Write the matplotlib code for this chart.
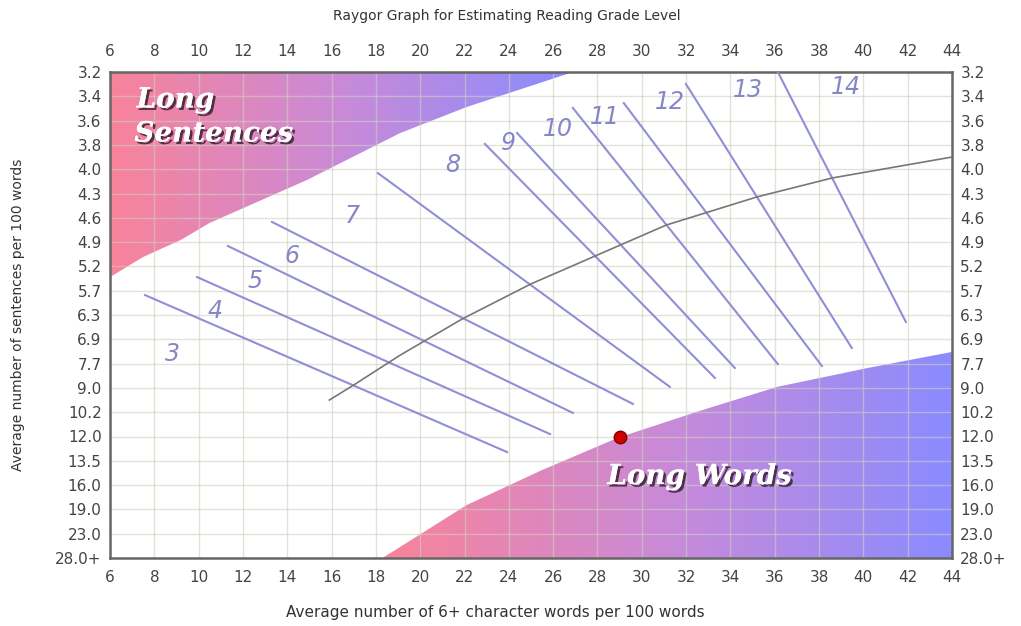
import numpy as np
import matplotlib.pyplot as plt
from matplotlib.colors import LinearSegmentedColormap
from matplotlib.patches import Polygon
import matplotlib.patheffects as pe

# x axis: average number of 6+ character words per 100 words
x_ticks = list(range(6, 46, 2))
# y axis: sentences per 100 words, one row per label (top to bottom)
y_labels = ['3.2', '3.4', '3.6', '3.8', '4.0', '4.3', '4.6', '4.9', '5.2', '5.7', '6.3',
            '6.9', '7.7', '9.0', '10.2', '12.0', '13.5', '16.0', '19.0', '23.0', '28.0+']

# "Long Sentences" boundary (x, row)
sent_x = [6.0, 7.5, 9.2, 10.5, 14.9, 19.1, 22.1, 26.9]
sent_y = [8.44, 7.61, 6.91, 6.21, 4.44, 2.51, 1.44, 0.0]
# "Long Words" boundary (x, row)
words_x = [18.3, 22.1, 25.5, 28.9, 32.6, 36.1, 40.2, 44.0]
words_y = [20.0, 17.82, 16.38, 15.06, 13.95, 12.96, 12.18, 11.52]

# gray dividing curve
curve_x = [15.9, 17.0, 19.1, 21.9, 25.0, 28.0, 31.1, 35.2, 38.6, 44.0]
curve_y = [13.5, 12.88, 11.65, 10.16, 8.72, 7.53, 6.30, 5.14, 4.36, 3.5]

# grade boundary lines: start and end points
grade_x0 = [7.58, 9.93, 11.32, 13.31, 18.09, 22.92, 24.37, 26.89, 29.19, 31.99, 36.14]
grade_y0 = [9.18, 8.44, 7.16, 6.17, 4.16, 2.96, 2.51, 1.48, 1.28, 0.49, 0.0]
grade_x1 = [23.92, 25.86, 26.89, 29.60, 31.27, 33.30, 34.20, 36.14, 38.13, 39.48, 41.92]
grade_y1 = [15.64, 14.90, 14.03, 13.66, 12.96, 12.59, 12.18, 12.02, 12.10, 11.36, 10.29]

# grade level labels
grade_names = ['3', '4', '5', '6', '7', '8', '9', '10', '11', '12', '13', '14']
grade_lx = [8.8, 10.74, 12.54, 14.21, 16.92, 21.48, 23.96, 26.22, 28.34, 31.27, 34.79, 39.21]
grade_ly = [11.6, 9.84, 8.6, 7.57, 5.93, 3.83, 2.92, 2.35, 1.85, 1.23, 0.74, 0.62]

# plotted text sample
sample_x = 29.0
sample_y = '12.0'

pink_blue = LinearSegmentedColormap.from_list('pb', ['#f9839a', '#c98ad8', '#8a8cff'])

fig = plt.figure(figsize=(10.21, 6.26), dpi=100)
ax = fig.add_axes([110 / 1021, 1 - 558 / 626, 842 / 1021, 486 / 626])

grad = np.linspace(0, 1, 256).reshape(1, -1)

# Long Sentences region
poly_s = Polygon(list(zip(sent_x, sent_y)) + [(6, 0)], closed=True,
                 facecolor='none', edgecolor='none', transform=ax.transData)
ax.add_patch(poly_s)
im = ax.imshow(grad, cmap=pink_blue, aspect='auto', extent=(6, 26.9, 20, 0), zorder=0)
im.set_clip_path(poly_s)

# Long Words region
poly_w = Polygon(list(zip(words_x, words_y)) + [(44, 20)], closed=True,
                 facecolor='none', edgecolor='none', transform=ax.transData)
ax.add_patch(poly_w)
im2 = ax.imshow(grad, cmap=pink_blue, aspect='auto', extent=(18.3, 44, 20, 0), zorder=0)
im2.set_clip_path(poly_w)

ax.set_xlim(6, 44)
ax.set_ylim(20, 0)

# grid
for gx in x_ticks:
    ax.axvline(gx, color='#cfcfc0', lw=1, alpha=0.6, zorder=1)
for gy in range(len(y_labels)):
    ax.axhline(gy, color='#cfcfc0', lw=1, alpha=0.6, zorder=1)

# grade lines
for i in range(len(grade_x0)):
    ax.plot([grade_x0[i], grade_x1[i]], [grade_y0[i], grade_y1[i]],
            color='#8f8fd6', lw=1.5, zorder=3)

ax.plot(curve_x, curve_y, color='#777777', lw=1.2, zorder=4)

for name, lx, ly in zip(grade_names, grade_lx, grade_ly):
    ax.text(lx, ly, name, fontsize=17, style='italic', color='#8585c8',
            ha='center', va='center', zorder=5)

shadow = [pe.withSimplePatchShadow(offset=(1.8, -1.8), shadow_rgbFace='#3a2030', alpha=0.85),
          pe.Normal()]
ax.text(7.2, 1.15, 'Long', fontsize=20, family='DejaVu Serif', weight='bold',
        style='italic', color='white', ha='left', va='center', path_effects=shadow, zorder=6)
ax.text(7.1, 2.55, 'Sentences', fontsize=20, family='DejaVu Serif', weight='bold',
        style='italic', color='white', ha='left', va='center', path_effects=shadow, zorder=6)
ax.text(32.6, 16.65, 'Long Words', fontsize=20, family='DejaVu Serif', weight='bold',
        style='italic', color='white', ha='center', va='center', path_effects=shadow, zorder=6)

ax.plot(sample_x, y_labels.index(sample_y), 'o', color='#d00000', mec='#800000',
        markersize=9, zorder=7)

ax.set_xticks(x_ticks)
ax.set_xticklabels([str(t) for t in x_ticks])
ax.set_yticks(range(len(y_labels)))
ax.set_yticklabels(y_labels)
ax.tick_params(axis='x', top=True, labeltop=True, length=0, pad=9, labelsize=11,
               labelcolor='#444444')
ax.tick_params(axis='y', right=True, labelright=True, length=0, pad=6, labelsize=11,
               labelcolor='#444444')
for s in ax.spines.values():
    s.set_color('#666666')
    s.set_linewidth(1.8)

fig.text(507 / 1021, 1 - 16 / 626, 'Raygor Graph for Estimating Reading Grade Level',
         ha='center', va='center', fontsize=10, color='#333333')
fig.text(495 / 1021, 1 - 613 / 626, 'Average number of 6+ character words per 100 words',
         ha='center', va='center', fontsize=11, color='#333333')
fig.text(18 / 1021, 1 - 315 / 626, 'Average number of sentences per 100 words',
         ha='center', va='center', rotation=90, fontsize=10, color='#333333')

fig.savefig('out.png', dpi=100)
